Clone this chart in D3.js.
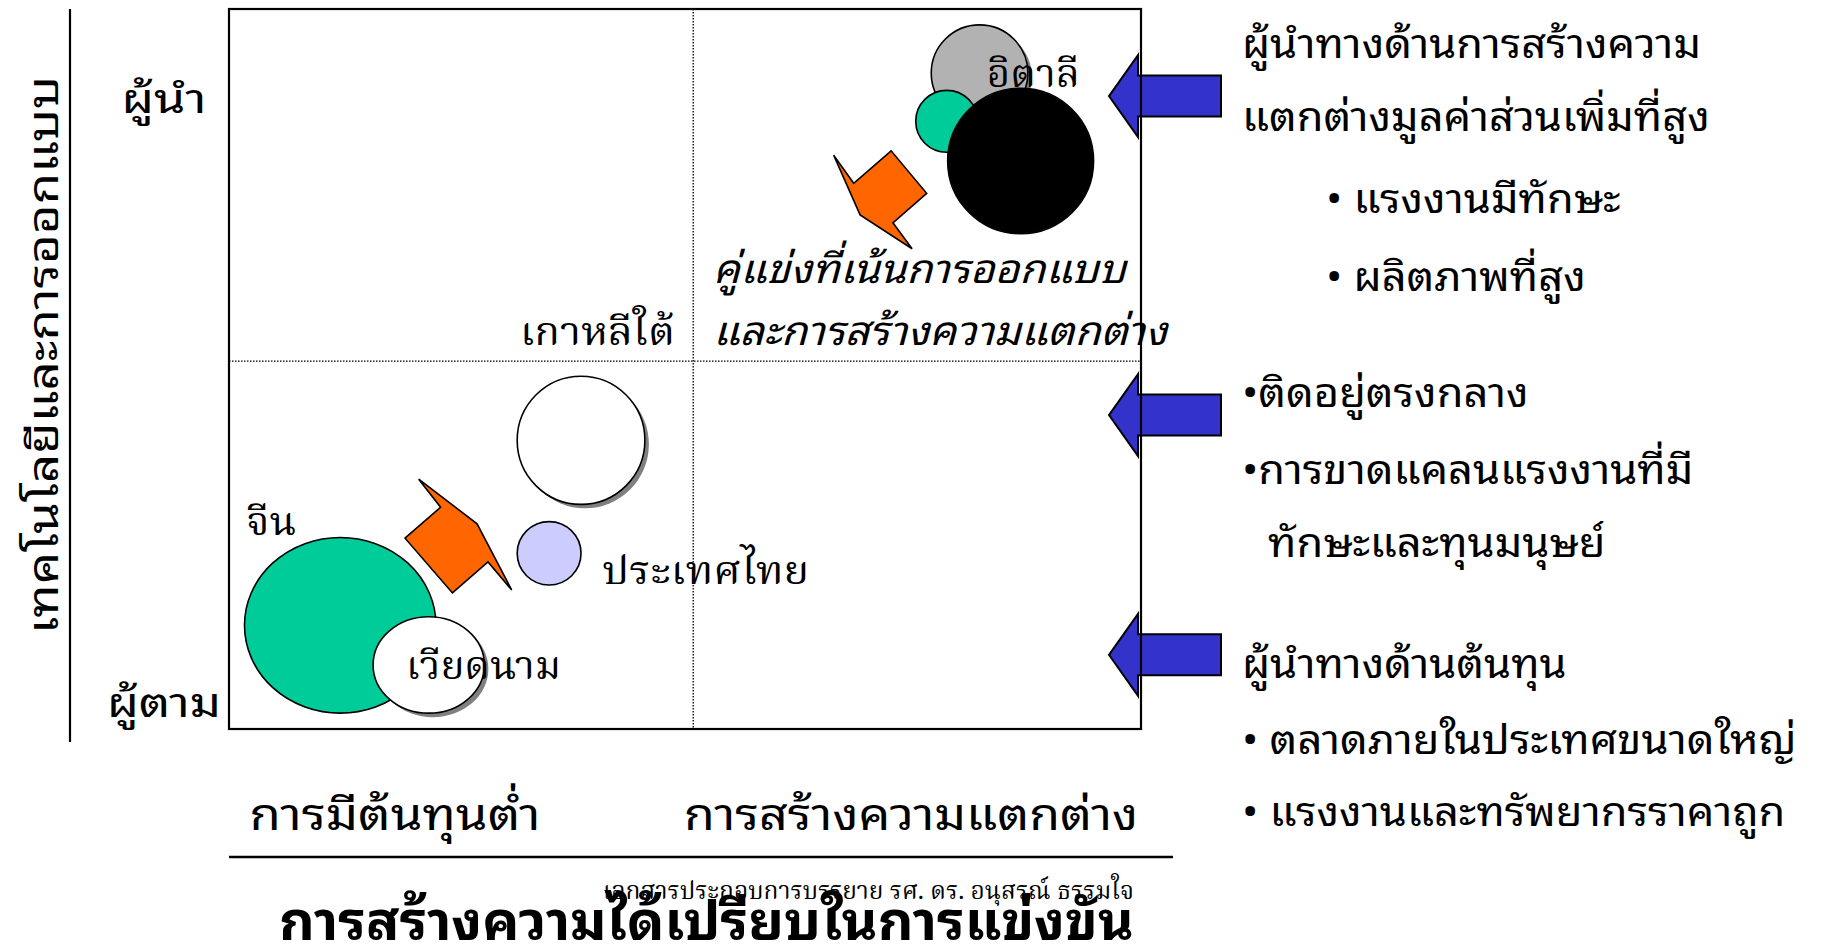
<!DOCTYPE html>
<html><head><meta charset="utf-8">
<script src="https://cdn.jsdelivr.net/npm/d3@7"></script>
<style>
body{margin:0;background:#fff;overflow:hidden}
</style></head>
<body>
<svg id="chart" width="1824" height="949"></svg>
<script>
"use strict";

// ---- data (positions on a 0-100 strategy map) ----
var bubbleIds = ["italy", "designA", "designB", "korea", "thailand", "china", "vietnam"];
var bubbleX   = [82.3, 78.7, 86.8, 38.6, 35.1, 12.2, 21.9];
var bubbleY   = [91.1, 84.4, 78.9, 40.1, 24.4, 14.4, 8.9];
var bubbleRx  = [5.3, 3.4, 8.0, 7.0, 3.5, 10.5, 6.1];
var bubbleRy  = [6.7, 4.3, 10.1, 8.9, 4.4, 12.2, 6.7];

var countryNames = ["อิตาลี", "เกาหลีใต้", "ประเทศไทย", "จีน", "เวียดนาม"];
var countryLabelX = [83.1, 31.9, 40.9, 1.9, 19.4];
var countryLabelY = [89.2, 53.4, 20.2, 26.9, 6.9];

// moving-direction callouts
var calloutA = [[66.3, 79.7], [68.5, 75.8], [72.6, 80.3], [76.5, 74.4], [72.8, 70.3], [74.9, 66.7], [69.2, 71.4]];
var calloutB = [[20.8, 34.7], [23.2, 30.8], [19.3, 26.5], [24.5, 18.9], [28.4, 23.2], [31.0, 19.3], [27.2, 28.5]];

var quadrantSplit = [50.9, 51.1];

var xTickLabels = ["การมีต้นทุนต่ำ", "การสร้างความแตกต่าง"];
var yTickLabels = ["ผู้นำ", "ผู้ตาม"];
var xTitle = "การสร้างความได้เปรียบในการแข่งขัน";
var yTitle = "เทคโนโลยีและการออกแบบ";
var designNote = ["คู่แข่งที่เน้นการออกแบบ", "และการสร้างความแตกต่าง"];
var sourceNote = "เอกสารประกอบการบรรยาย รศ. ดร. อนุสรณ์ ธรรมใจ";

var arrowLevels = [87.9, 43.6, 10.3];
var leaderNotes = ["ผู้นำทางด้านการสร้างความ", "แตกต่างมูลค่าส่วนเพิ่มที่สูง", "• แรงงานมีทักษะ", "• ผลิตภาพที่สูง"];
var middleNotes = ["•ติดอยู่ตรงกลาง", "•การขาดแคลนแรงงานที่มี", "ทักษะและทุนมนุษย์"];
var costNotes = ["ผู้นำทางด้านต้นทุน", "• ตลาดภายในประเทศขนาดใหญ่", "• แรงงานและทรัพยากรราคาถูก"];

// ---- setup ----
var LOOP = "'Noto Sans Thai Looped', 'Noto Sans Thai', sans-serif";
var SERIF = "'Noto Serif Thai', serif";

var fills = {italy: "#b2b2b2", designA: "#00cc99", designB: "#000000", korea: "#ffffff",
             thailand: "#ccccff", china: "#00cc99", vietnam: "#ffffff"};
var shadowed = {italy: true, korea: true, vietnam: true};

var svg = d3.select("#chart");

var x = d3.scaleLinear().domain([0, 100]).range([229, 1141]);
var y = d3.scaleLinear().domain([0, 100]).range([729, 9]);
var rxScale = d3.scaleLinear().domain([0, 100]).range([0, 912]);
var ryScale = d3.scaleLinear().domain([0, 100]).range([0, 720]);

function addText(g, o) {
    var t = g.append("text")
        .attr("x", o.x).attr("y", o.y)
        .attr("font-family", o.font)
        .attr("font-size", o.size)
        .attr("font-weight", o.weight || 400)
        .attr("font-style", o.style || "normal")
        .attr("text-anchor", o.anchor || "start")
        .attr("fill", "#000")
        .text(o.text);
    if (o.transform) t.attr("transform", o.transform);
    if (o.w) t.attr("textLength", o.w).attr("lengthAdjust", "spacingAndGlyphs");
    if (o.k) {
        var nat = t.node().getComputedTextLength();
        t.attr("textLength", nat * o.k).attr("lengthAdjust", "spacingAndGlyphs");
    }
    return t;
}

function naturalWidth(font, size, str) {
    var t = svg.append("text").attr("font-family", font).attr("font-size", size).text(str);
    var w = t.node().getComputedTextLength();
    t.remove();
    return w;
}

var bubbles = bubbleIds.map(function(id, i) {
    return {id: id, x: bubbleX[i], y: bubbleY[i], rx: bubbleRx[i], ry: bubbleRy[i]};
});

// ---- quadrant dividers ----
var plot = svg.append("g").attr("class", "plot");
plot.append("line")
    .attr("x1", x(quadrantSplit[0])).attr("x2", x(quadrantSplit[0]))
    .attr("y1", y(100)).attr("y2", y(0))
    .attr("stroke", "#000").attr("stroke-width", 1.3).attr("stroke-dasharray", "1.5,1.5");
plot.append("line")
    .attr("x1", x(0)).attr("x2", x(100))
    .attr("y1", y(quadrantSplit[1])).attr("y2", y(quadrantSplit[1]))
    .attr("stroke", "#000").attr("stroke-width", 1.3).attr("stroke-dasharray", "1.5,1.5");

// ---- bubbles (shadow first, then the disc) ----
bubbles.forEach(function(d) {
    if (shadowed[d.id]) {
        plot.append("ellipse")
            .attr("cx", x(d.x) + 4).attr("cy", y(d.y) + 4)
            .attr("rx", rxScale(d.rx)).attr("ry", ryScale(d.ry))
            .attr("fill", "#808080");
    }
    plot.append("ellipse")
        .attr("cx", x(d.x)).attr("cy", y(d.y))
        .attr("rx", rxScale(d.rx)).attr("ry", ryScale(d.ry))
        .attr("fill", fills[d.id])
        .attr("stroke", "#000").attr("stroke-width", 1.6);
});

// ---- orange callouts ----
var poly = d3.line().x(function(p) { return x(p[0]); }).y(function(p) { return y(p[1]); });
[calloutA, calloutB].forEach(function(pts) {
    plot.append("path")
        .attr("d", poly(pts) + "Z")
        .attr("fill", "#ff6600")
        .attr("stroke", "#000").attr("stroke-width", 1.6).attr("stroke-linejoin", "miter");
});

// ---- country labels ----
var labelWidths = [93, 155, 207, 50, 155];
countryNames.forEach(function(name, i) {
    addText(plot, {x: x(countryLabelX[i]), y: y(countryLabelY[i]), text: name,
        font: SERIF, size: 40, w: labelWidths[i]});
});

// ---- italic design note ----
addText(plot, {x: 713, y: 283, text: designNote[0], font: LOOP, size: 40, style: "italic", w: 413});
addText(plot, {x: 713, y: 345, text: designNote[1], font: LOOP, size: 40, style: "italic", w: 454});

// ---- arrows pointing at the map ----
var arrowShape = [[0, 0], [29, -41], [29, -20.5], [112, -20.5], [112, 20.5], [29, 20.5], [29, 41]];
var arrowLine = d3.line();
arrowLevels.forEach(function(v) {
    svg.append("path")
        .attr("transform", "translate(1109," + y(v) + ")")
        .attr("d", arrowLine(arrowShape) + "Z")
        .attr("fill", "#3333cc")
        .attr("stroke", "#000").attr("stroke-width", 2);
});

// ---- plot frame (drawn over arrows and text, as in the slide) ----
svg.append("rect")
    .attr("x", x(0)).attr("y", y(100))
    .attr("width", x(100) - x(0)).attr("height", y(0) - y(100))
    .attr("fill", "none").attr("stroke", "#000").attr("stroke-width", 2.2);

// ---- y axis ----
svg.append("line").attr("x1", 70).attr("x2", 70).attr("y1", 9).attr("y2", 742)
    .attr("stroke", "#000").attr("stroke-width", 2.2);
addText(svg, {x: 0, y: 0, text: yTitle, font: LOOP, size: 42, anchor: "middle", w: 558,
    transform: "translate(58,355) rotate(-90)"});
addText(svg, {x: 164, y: 113, text: yTickLabels[0], font: LOOP, size: 40, anchor: "middle", w: 85});
addText(svg, {x: 164, y: 717, text: yTickLabels[1], font: LOOP, size: 40, anchor: "middle", w: 114});

// ---- x axis ----
addText(svg, {x: 395, y: 830, text: xTickLabels[0], font: LOOP, size: 44, anchor: "middle", w: 291});
addText(svg, {x: 911, y: 830, text: xTickLabels[1], font: LOOP, size: 44, anchor: "middle", w: 454});
svg.append("line").attr("x1", 229).attr("x2", 1173).attr("y1", 857).attr("y2", 857)
    .attr("stroke", "#000").attr("stroke-width", 2.5);
addText(svg, {x: 603, y: 899, text: sourceNote, font: SERIF, size: 24, w: 531});
addText(svg, {x: 279, y: 940, text: xTitle, font: LOOP, size: 54, weight: 700, w: 855});

// ---- side notes ----
var sideK = 459 / naturalWidth(LOOP, 40, leaderNotes[0]);
var leaderPos = [[1242, 58], [1242, 131], [1326, 213], [1326, 291]];
var middlePos = [[1242, 407], [1242, 484], [1268, 557]];
var costPos = [[1242, 678], [1242, 754], [1242, 826]];
[[leaderNotes, leaderPos], [middleNotes, middlePos], [costNotes, costPos]].forEach(function(block) {
    block[0].forEach(function(line, i) {
        addText(svg, {x: block[1][i][0], y: block[1][i][1], text: line, font: LOOP, size: 40, k: sideK});
    });
});
</script>
</body></html>
